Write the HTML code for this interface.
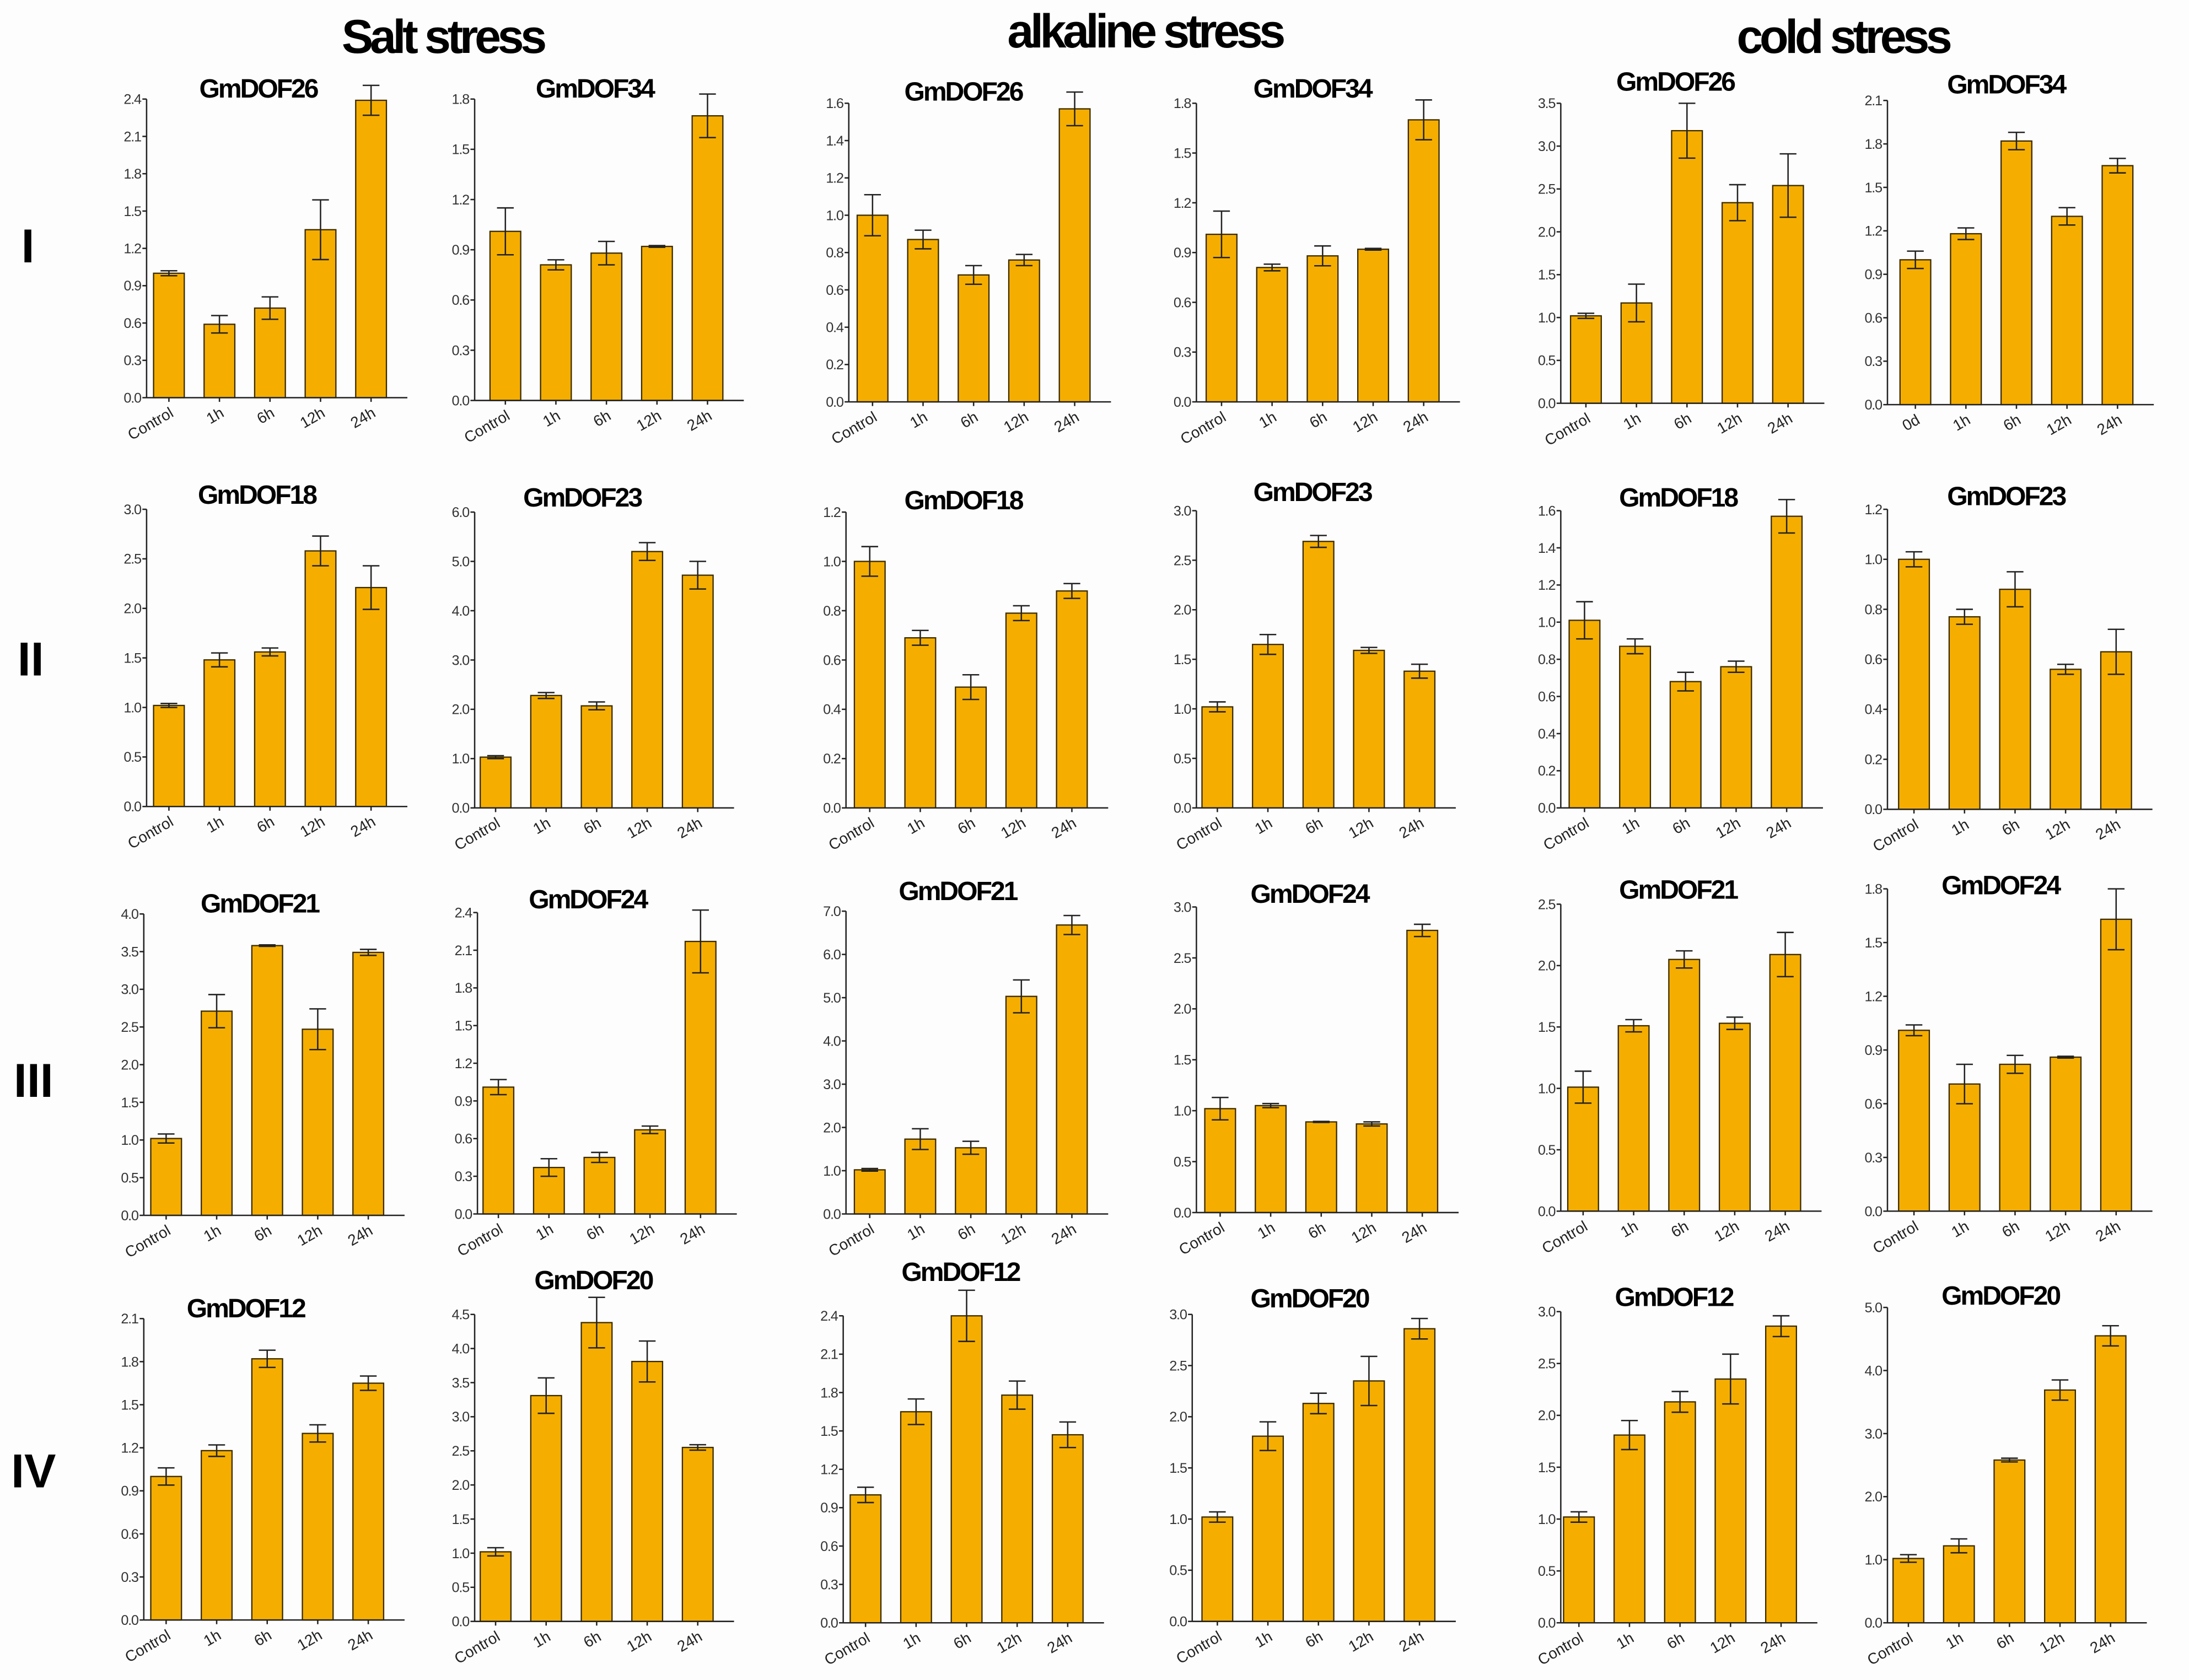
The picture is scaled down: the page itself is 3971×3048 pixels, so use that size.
<!DOCTYPE html>
<html><head><meta charset="utf-8">
<style>
html,body{margin:0;padding:0;background:#fff;}
svg{display:block;}
text{font-family:"Liberation Sans",sans-serif;}
</style></head>
<body>
<svg id="fig" width="3971" height="3048" viewBox="0 0 1568 1204" preserveAspectRatio="none" xmlns="http://www.w3.org/2000/svg">
<rect x="0" y="0" width="1568" height="1204" fill="#fdfdfd"/>
<text x="317" y="38" text-anchor="middle" font-size="34" font-weight="bold" letter-spacing="-2.5">Salt stress</text>
<text x="820" y="34" text-anchor="middle" font-size="34" font-weight="bold" letter-spacing="-2.5">alkaline stress</text>
<text x="1320" y="38" text-anchor="middle" font-size="34" font-weight="bold" letter-spacing="-2.5">cold stress</text>
<text x="20" y="188" text-anchor="middle" font-size="34" font-weight="bold">I</text>
<text x="22" y="484" text-anchor="middle" font-size="34" font-weight="bold">II</text>
<text x="24" y="786" text-anchor="middle" font-size="34" font-weight="bold">III</text>
<text x="24" y="1066" text-anchor="middle" font-size="34" font-weight="bold">IV</text>
<g id="panels"></g>
</svg>
<script>
// ---- data ----
const categories = ["Control","1h","6h","12h","24h"];
const categoriesAlt = ["0d","1h","6h","12h","24h"];
const titles = ["GmDOF26","GmDOF34","GmDOF26","GmDOF34","GmDOF26","GmDOF34",
 "GmDOF18","GmDOF23","GmDOF18","GmDOF23","GmDOF18","GmDOF23",
 "GmDOF21","GmDOF24","GmDOF21","GmDOF24","GmDOF21","GmDOF24",
 "GmDOF12","GmDOF20","GmDOF12","GmDOF20","GmDOF12","GmDOF20"];
const yMax = [2.4,1.8,1.6,1.8,3.5,2.1, 3.0,6.0,1.2,3.0,1.6,1.2, 4.0,2.4,7.0,3.0,2.5,1.8, 2.1,4.5,2.4,3.0,3.0,5.0];
const yStep = [0.3,0.3,0.2,0.3,0.5,0.3, 0.5,1.0,0.2,0.5,0.2,0.2, 0.5,0.3,1.0,0.5,0.5,0.3, 0.3,0.5,0.3,0.5,0.5,1.0];
const means = [
 [1.0,0.59,0.72,1.35,2.39],[1.01,0.81,0.88,0.92,1.70],[1.0,0.87,0.68,0.76,1.57],[1.01,0.81,0.88,0.92,1.70],[1.02,1.17,3.18,2.34,2.54],[1.0,1.18,1.82,1.30,1.65],
 [1.02,1.48,1.56,2.58,2.21],[1.03,2.28,2.07,5.20,4.72],[1.0,0.69,0.49,0.79,0.88],[1.02,1.65,2.69,1.59,1.38],[1.01,0.87,0.68,0.76,1.57],[1.0,0.77,0.88,0.56,0.63],
 [1.02,2.71,3.58,2.47,3.49],[1.01,0.37,0.45,0.67,2.17],[1.02,1.73,1.53,5.03,6.68],[1.02,1.05,0.89,0.87,2.77],[1.01,1.51,2.05,1.53,2.09],[1.01,0.71,0.82,0.86,1.63],
 [1.0,1.18,1.82,1.30,1.65],[1.02,3.31,4.38,3.81,2.55],[1.0,1.65,2.40,1.78,1.47],[1.02,1.81,2.13,2.35,2.86],[1.02,1.81,2.13,2.35,2.86],[1.02,1.22,2.58,3.69,4.55]];
const errs = [
 [0.02,0.07,0.09,0.24,0.12],[0.14,0.03,0.07,0.005,0.13],[0.11,0.05,0.05,0.03,0.09],[0.14,0.02,0.06,0.005,0.12],[0.03,0.22,0.32,0.21,0.37],[0.06,0.04,0.06,0.06,0.05],
 [0.02,0.07,0.04,0.15,0.22],[0.03,0.06,0.08,0.18,0.28],[0.06,0.03,0.05,0.03,0.03],[0.05,0.10,0.06,0.03,0.07],[0.10,0.04,0.05,0.03,0.09],[0.03,0.03,0.07,0.02,0.09],
 [0.06,0.22,0.01,0.27,0.04],[0.06,0.07,0.04,0.03,0.25],[0.03,0.24,0.15,0.38,0.22],[0.11,0.02,0.005,0.02,0.06],[0.13,0.05,0.07,0.05,0.18],[0.03,0.11,0.05,0.005,0.17],
 [0.06,0.04,0.06,0.06,0.05],[0.06,0.26,0.37,0.30,0.04],[0.06,0.10,0.20,0.11,0.10],[0.05,0.14,0.10,0.24,0.10],[0.05,0.14,0.10,0.24,0.10],[0.06,0.11,0.03,0.16,0.16]];
// ---- layout (display units) ----
const axX = [105,340,608,857,1118,1352, 105,340,606,857,1118,1352, 103,342,606,857,1118,1352, 103,340,604,854,1118,1352];
const axY0 = [285,287,288,288,289,290, 578,579,579,579,579,580, 871,870,870,869,868,868, 1161,1162,1163,1162,1163,1163];
const axYT = [71,71,74,74,74,72, 365,367,367,366,366,365, 655,654,653,650,648,637, 945,942,943,942,940,937];
const bar0 = [121,362,625,875,1136,1372, 121,355,623,872,1135,1371, 119,357,623,874,1134,1371, 119,355,620,872,1131,1367];
const titleX = [185,426,690,940,1200,1437, 184,417,690,940,1202,1437, 186,421,686,938,1202,1433, 176,425,688,938,1199,1433];
const titleY = [70,70,72,70,65,67, 361,363,365,359,363,362, 654,651,645,647,644,641, 944,924,918,937,936,935];
const NS="http://www.w3.org/2000/svg";
const root=document.getElementById('panels');
function mk(tag,attrs,parent){const e=document.createElementNS(NS,tag);for(const k in attrs)e.setAttribute(k,attrs[k]);parent.appendChild(e);return e;}
for(let p=0;p<24;p++){
  const g=mk('g',{},root);
  
  
  const x0=axX[p], y0=axY0[p], yT=axYT[p];
  const yS=v=>y0-(v/yMax[p])*(y0-yT);
  const step=36.2;
  const xS=i=>bar0[p]+i*step;
  const bw=22;
  const xEnd=xS(4)+26;
  // title
  const t=mk('text',{x:titleX[p],y:titleY[p],'text-anchor':'middle','font-size':19,'font-weight':'bold','letter-spacing':'-1.2'},g);
  t.textContent=titles[p];
  
  
  // y axis
  const ya=mk('line',{x1:x0,y1:yT,x2:x0,y2:y0,stroke:'#222','stroke-width':1},g);
  
  
  const n=Math.round(yMax[p]/yStep[p]);
  for(let k=0;k<=n;k++){
    const v=k*yStep[p], y=yS(v);
    mk('line',{x1:x0-3,y1:y,x2:x0,y2:y,stroke:'#222','stroke-width':1},g);
    const tl=mk('text',{x:x0-4,y:y+3.5,'text-anchor':'end','font-size':10,fill:'#333','letter-spacing':'-0.5'},g);
    tl.textContent=v.toFixed(1);
    
    
  }
  // bars
  for(let i=0;i<5;i++){
    const cx=xS(i), v=means[p][i], e=errs[p][i];
    const r=mk('rect',{x:cx-bw/2,y:yS(v),width:bw,height:y0-yS(v),fill:'#F5AE00',stroke:'#3a2a00','stroke-width':0.9},g);
    
    
    const eg=mk('g',{stroke:'#222','stroke-width':1},g);
    
    
    mk('line',{x1:cx,y1:yS(v+e),x2:cx,y2:yS(v-e)},eg);
    mk('line',{x1:cx-6,y1:yS(v+e),x2:cx+6,y2:yS(v+e)},eg);
    mk('line',{x1:cx-6,y1:yS(v-e),x2:cx+6,y2:yS(v-e)},eg);
    mk('line',{x1:cx,y1:y0,x2:cx,y2:y0+3,stroke:'#222'},g);
    const lab=(p===5?categoriesAlt:categories)[i];
    const xl=mk('text',{x:cx+4,y:y0+13,'text-anchor':'end','font-size':11,fill:'#222',transform:'rotate(-30 '+(cx+4)+' '+(y0+13)+')'},g);
    xl.textContent=lab;
    
    
  }
  const xa=mk('line',{x1:x0,y1:y0,x2:xEnd,y2:y0,stroke:'#222','stroke-width':1},g);
  
  
}
</script>
</body></html>
